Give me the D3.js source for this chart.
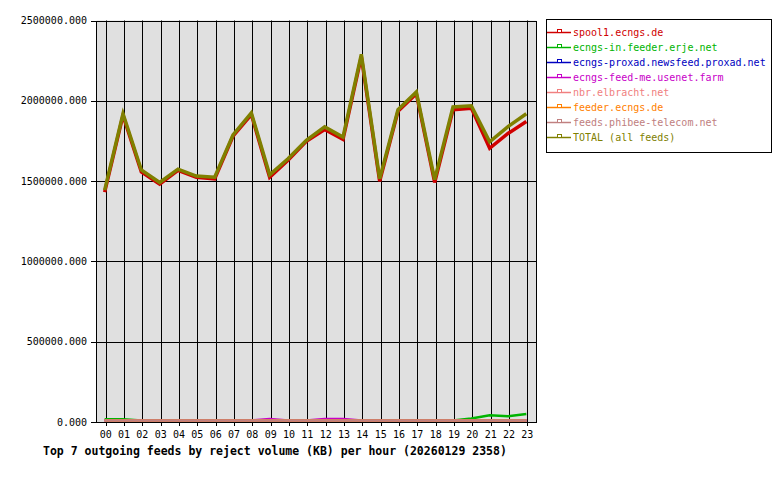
<!DOCTYPE html>
<html>
<head>
<meta charset="utf-8">
<script src="https://cdn.jsdelivr.net/npm/d3@7"></script>
<style>
  body { margin: 0; background: #fff; }
  text { font-family: "DejaVu Sans Mono", monospace; }
</style>
</head>
<body>
<div id="chart"></div>
<script>
// Data
const hours = ["00","01","02","03","04","05","06","07","08","09","10","11",
               "12","13","14","15","16","17","18","19","20","21","22","23"];
const feedNames = [
  "spool1.ecngs.de",
  "ecngs-in.feeder.erje.net",
  "ecngs-proxad.newsfeed.proxad.net",
  "ecngs-feed-me.usenet.farm",
  "nbr.elbracht.net",
  "feeder.ecngs.de",
  "feeds.phibee-telecom.net",
  "TOTAL (all feeds)"
];
const spool1 = [1422000, 1900000, 1548000, 1472000, 1558000, 1514000, 1505000, 1770000,
                1905000, 1515000, 1620000, 1738000, 1812000, 1750000, 2265000, 1490000,
                1925000, 2035000, 1482000, 1935000, 1945000, 1695000, 1787000, 1862000];
const erje = [8000, 8000, 0, 0, 0, 0, 0, 0, 0, 0, 0, 0,
              0, 0, 0, 0, 0, 0, 0, 0, 12000, 32000, 26000, 40000];
const proxad = hours.map(() => 0);
const usenetFarm = [0, 0, 0, 0, 0, 0, 0, 0, 0, 10000, 0, 0,
                    10000, 10000, 0, 0, 0, 0, 0, 0, 0, 0, 0, 0];
const elbracht = hours.map(() => 0);
const feederEcngs = hours.map(() => 0);
const phibee = hours.map(() => 0);
const total = [1434000, 1910000, 1560000, 1482000, 1565000, 1522000, 1515000, 1778000,
               1915000, 1530000, 1630000, 1745000, 1828000, 1765000, 2280000, 1505000,
               1935000, 2045000, 1500000, 1952000, 1960000, 1735000, 1830000, 1910000];
const yTicks = [0, 500000, 1000000, 1500000, 2000000, 2500000];

const seriesValues = [spool1, erje, proxad, usenetFarm, elbracht, feederEcngs, phibee, total];
const colors = ["#d00000", "#00b400", "#0000c0", "#c800c8", "#f08080", "#ff8000", "#c08080", "#808000"];

const width = 780, height = 480;
const svg = d3.select("#chart").append("svg")
  .attr("width", width).attr("height", height);

const x = d3.scalePoint().domain(hours).range([96.5, 536.5]).padding(0.5);
const y = d3.scaleLinear().domain([0, 2500000]).range([422, 20.5]);

// Plot background
svg.append("rect")
  .attr("x", 96.5).attr("y", y(2500000))
  .attr("width", 440).attr("height", y(0) - y(2500000))
  .attr("fill", "#e0e0e0");

// Vertical grid
svg.append("g").selectAll("line").data(hours).enter().append("line")
  .attr("x1", d => Math.round(x(d)) + 0.5).attr("x2", d => Math.round(x(d)) + 0.5)
  .attr("y1", y(2500000)).attr("y2", 426)
  .attr("stroke", "#000").attr("stroke-width", 1);

// Horizontal grid + ticks
svg.append("g").selectAll("line").data(yTicks).enter().append("line")
  .attr("x1", 91).attr("x2", 536.5)
  .attr("y1", d => Math.round(y(d)) + 0.5).attr("y2", d => Math.round(y(d)) + 0.5)
  .attr("stroke", "#000").attr("stroke-width", 1);

// Y labels
svg.append("g").selectAll("text").data(yTicks).enter().append("text")
  .attr("x", 87).attr("y", d => y(d))
  .attr("dy", "0.35em")
  .attr("text-anchor", "end")
  .style("font-size", "10px")
  .text(d => d.toFixed(3));

// X labels
svg.append("g").selectAll("text").data(hours).enter().append("text")
  .attr("x", d => x(d)).attr("y", 438)
  .attr("text-anchor", "middle")
  .style("font-size", "10px")
  .text(d => d);

// Series lines
const line = d3.line()
  .x((d, i) => x(hours[i]))
  .y(d => y(d));

svg.append("g")
  .attr("transform", "translate(-1,-1.5)")
  .selectAll("path").data(seriesValues).enter().append("path")
  .attr("d", d => line(d))
  .attr("fill", "none")
  .attr("stroke", (d, i) => colors[i])
  .attr("stroke-width", (d, i) => (i === 0 || i === 7) ? 3.5 : 2.5);

// Plot border
svg.append("rect")
  .attr("x", 96.5).attr("y", Math.round(y(2500000)) + 0.5)
  .attr("width", 440).attr("height", Math.round(y(0)) - Math.round(y(2500000)))
  .attr("fill", "none").attr("stroke", "#000");

// Title
svg.append("text")
  .attr("x", 43).attr("y", 455)
  .style("font-size", "11.5px")
  .style("font-weight", "bold")
  .text("Top 7 outgoing feeds by reject volume (KB) per hour (20260129 2358)");

// Legend
const legend = svg.append("g");
legend.append("rect")
  .attr("x", 546.5).attr("y", 19.5)
  .attr("width", 225).attr("height", 133)
  .attr("fill", "#fff").attr("stroke", "#000");

const items = legend.selectAll("g.item").data(feedNames).enter().append("g")
  .attr("transform", (d, i) => `translate(0, ${32 + i * 15})`);
items.append("line")
  .attr("x1", 547).attr("x2", 571).attr("y1", 0.5).attr("y2", 0.5)
  .attr("stroke", (d, i) => colors[i]).attr("stroke-width", 1.5);
items.append("rect")
  .attr("x", 557.5).attr("y", -2.5).attr("width", 4).attr("height", 3)
  .attr("fill", "#fff").attr("stroke", (d, i) => colors[i]);
items.append("text")
  .attr("x", 573).attr("y", 0).attr("dy", "0.35em")
  .style("font-size", "10px")
  .attr("fill", (d, i) => colors[i])
  .text(d => d);
</script>
</body>
</html>
